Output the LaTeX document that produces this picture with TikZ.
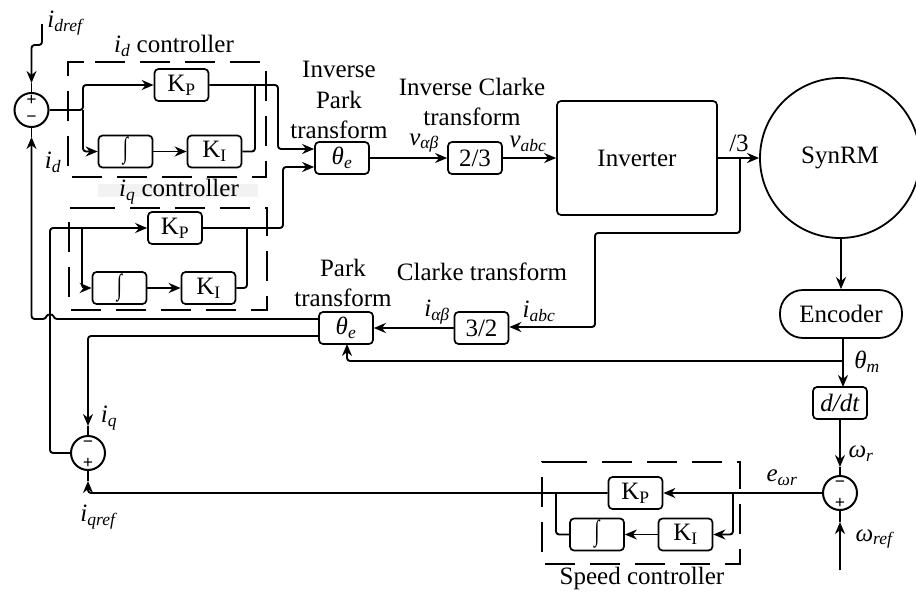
\documentclass[tikz,border=0pt]{standalone}
\usepackage{fontspec}
\setmainfont{Liberation Serif}
\usetikzlibrary{arrows.meta}
\newcommand{\subsym}[2]{\textit{#1}\textsubscript{\textit{#2}}}
\newcommand{\gain}[1]{K\textsubscript{#1}}
\newcommand{\intsym}{\scalebox{0.65}[1]{\fontsize{29}{29}\selectfont ∫}}
\tikzset{
  block/.style={draw, rounded corners=4pt, line width=1.7pt, minimum width=54pt, minimum height=32pt, inner sep=0pt},
  sumjunc/.style={draw, circle, line width=2pt, minimum size=34pt, inner sep=0pt},
  sign/.style={font=\fontsize{18}{18}\selectfont\bfseries, inner sep=0pt},
  lbl/.style={inner sep=0pt, align=center},
  ctrlframe/.style={line width=1.7pt, dash pattern=on 30pt off 15pt},
  wire/.style={line width=1.9pt, rounded corners=3pt},
}
\begin{document}
\begin{tikzpicture}[x=1pt, y=-1pt, >={Stealth[length=12pt,width=10pt]}, font=\fontsize{25}{30.5}\selectfont]
  \useasboundingbox (0,0) rectangle (916,592);

  % --- 1. controllers: frames and blocks ---
  \fill[black!5] (98,184) rectangle (258,197);
  \draw[ctrlframe] (95,62) -- (266,62) -- (266,177) -- (68,177) -- (68,62) -- (95,62);
  \draw[ctrlframe] (85,208) -- (267,208) -- (267,310) -- (69,310) -- (69,208) -- (85,208);
  \draw[ctrlframe] (557,462) -- (740,462) -- (740,564) -- (542,564) -- (542,462) -- (557,462);

  \node[block] (kpd) at (181.5,85) {\gain{P}};
  \node[block] (intd) at (125.5,151.5) {\intsym};
  \node[block] (kid) at (214.5,151.5) {\gain{I}};
  \node[block] (kpq) at (175,228) {\gain{P}};
  \node[block] (intq) at (119.5,288) {\intsym};
  \node[block] (kiq) at (208.5,288) {\gain{I}};
  \node[block] (kpw) at (635.5,493) {\gain{P}};
  \node[block] (intw) at (597,534.5) {\intsym};
  \node[block] (kiw) at (685.5,534.5) {\gain{I}};

  % --- 2. transforms, inverter, machine ---
  \node[block] (ipark) at (342,158) {\textit{θ}\textsubscript{\textit{e}}};
  \node[block] (iclarke) at (475,158) {2/3};
  \node[block, minimum width=160pt, minimum height=114pt] (inv) at (637,158) {Inverter};
  \node[draw, circle, line width=1.8pt, minimum size=160pt, inner sep=0pt] (motor) at (840,158) {SynRM};
  \node[draw, rounded corners=23pt, line width=1.8pt, minimum width=122pt, minimum height=48pt, inner sep=0pt] (enc) at (841,314) {Encoder};
  \node[block] (ddt) at (840,403) {\textit{d/dt}};
  \node[block] (clarke) at (481.5,328) {3/2};
  \node[block] (park) at (346,328) {\textit{θ}\textsubscript{\textit{e}}};

  % --- 3. summing junctions ---
  \node[sumjunc] (sumd) at (31.5,110) {};
  \node[sign] at (31.5,100) {+};
  \node[sign] at (31.5,119) {−};
  \node[sumjunc] (sumq) at (88,453) {};
  \node[sign] at (88,444) {−};
  \node[sign] at (88,463) {+};
  \node[sumjunc] (sumw) at (840,493) {};
  \node[sign] at (840,484) {−};
  \node[sign] at (840,503) {+};

  % --- 4. i_d loop ---
  \coordinate (idin) at (42,24);
  \coordinate (idtip) at (31.5,83);
  \coordinate (idfb) at (31.5,137);
  \draw[wire, ->] (idin) -- (42,45) -- (31.5,45) -- (idtip);
  \draw[wire] (idtip) -- (sumd.north);
  \draw[wire] (idfb) -- (sumd.south);
  \draw[wire, ->] (sumd.east) -- (83,110) -- (83,85) -- (kpd.west);
  \draw[wire, ->] (83,110) -- (83,151.5) -- (intd.west);
  \draw[wire, ->] (intd.east) -- (kid.west);
  \draw[wire] (kid.east) -- (255,151.5) -- (255,85);
  \draw[wire, ->] (kpd.east) -- (278,85) -- (278,149) -- (ipark.west |- 0,149);

  % --- 5. i_q loop ---
  \draw[wire, ->] (sumq.west) -- (50,453) -- (50,228) -- (kpq.west);
  \draw[wire, ->] (82,228) -- (82,288) -- (intq.west);
  \draw[wire, ->] (intq.east) -- (kiq.west);
  \draw[wire] (kiq.east) -- (247,288) -- (247,228);
  \draw[wire, ->] (kpq.east) -- (283,228) -- (283,167) -- (ipark.west |- 0,167);

  % --- 6. forward path and feedback ---
  \draw[wire, ->] (ipark.east) -- (iclarke.west);
  \draw[wire, ->] (iclarke.east) -- (inv.west);
  \draw[wire, ->] (inv.east) -- (motor.west);
  \draw[wire, ->] (740,158) -- (740,233) -- (595,233) -- (595,327) -- (clarke.east |- 0,327);
  \draw[wire, ->] (clarke.west) -- (park.east);
  \draw[wire, ->] (motor.south -| enc.north) -- (enc.north);
  \draw[wire, ->] (843,338) -- (843,387);
  \draw[wire, ->] (843,361) -- (347,361) -- (347,344);
  \draw[wire, ->] (park.west |- 0,319) -- (54,319) .. controls (53,314) and (47,314) .. (46,319) -- (31.5,319) -- (idfb);
  \coordinate (iqtip) at (88,426);
  \coordinate (iqrtip) at (88,481);
  \draw[wire, ->] (park.west |- 0,336) -- (88,336) -- (iqtip);
  \draw[wire] (iqtip) -- (sumq.north);
  \draw[wire, ->] (kpw.west) -- (88,493) -- (iqrtip);
  \draw[wire] (iqrtip) -- (sumq.south);

  % --- 7. speed loop ---
  \coordinate (wtip) at (840,467);
  \coordinate (wrtip) at (840,522);
  \coordinate (wrin) at (840,570);
  \draw[wire, ->] (ddt.south) -- (wtip);
  \draw[wire] (wtip) -- (sumw.north);
  \draw[wire, ->] (wrin) -- (wrtip);
  \draw[wire] (wrtip) -- (sumw.south);
  \draw[wire, ->] (sumw.west) -- (kpw.east);
  \draw[wire, ->] (733,493) -- (733,534.5) -- (kiw.east);
  \draw[wire, ->] (kiw.west) -- (intw.east);
  \draw[wire] (intw.west) -- (556,534.5) -- (556,493);

  % --- 8. labels ---
  \node[lbl] at (339,100) {Inverse\\Park\\transform};
  \node[lbl] at (472,102) {Inverse Clarke\\transform};
  \node[lbl] at (343,283) {Park\\transform};
  \node[lbl] at (482,272) {Clarke transform};
  \node[lbl] at (174,46) {\subsym{i}{d} controller};
  \node[lbl] at (179,192) {\subsym{i}{q} controller};
  \node[lbl] at (642,578) {Speed controller};
  \node[lbl] at (66,23) {\subsym{i}{dref}};
  \node[lbl] at (53,162) {\subsym{i}{d}};
  \node[lbl] at (109,418) {\subsym{i}{q}};
  \node[lbl] at (99,517) {\subsym{i}{qref}};
  \node[lbl] at (424,143) {\subsym{v}{αβ}};
  \node[lbl] at (528,144) {\subsym{v}{abc}};
  \node[lbl] at (739,143) {/3};
  \node[lbl] at (437,312) {\subsym{i}{αβ}};
  \node[lbl] at (539,311) {\subsym{i}{abc}};
  \node[lbl] at (867,362) {\subsym{θ}{m}};
  \node[lbl] at (861,454) {\subsym{ω}{r}};
  \node[lbl] at (782,478) {\subsym{e}{ωr}};
  \node[lbl] at (875,539) {\subsym{ω}{ref}};
\end{tikzpicture}
\end{document}
